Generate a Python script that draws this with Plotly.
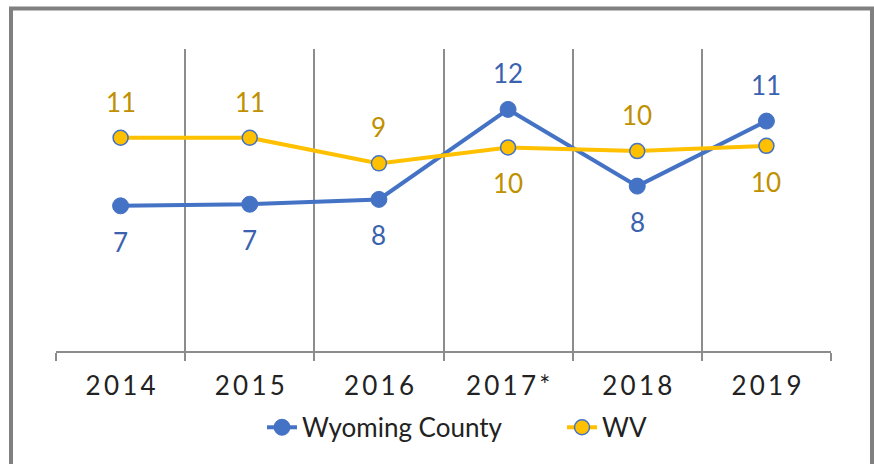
import plotly.graph_objects as go

years = ["2014", "2015", "2016", "2017*", "2018", "2019"]
tick_labels = ["2\u20090\u20091\u20094", "2\u20090\u20091\u20095", "2\u20090\u20091\u20096",
               "2\u20090\u20091\u20097\u2009*", "2\u20090\u20091\u20098", "2\u20090\u20091\u20099"]
wyoming = [7.21, 7.29, 7.53, 12.0, 8.19, 11.42]
wv = [10.59, 10.59, 9.32, 10.11, 9.93, 10.19]
wy_label_pos = ["below", "below", "below", "above", "below", "above"]
wv_label_pos = ["above", "above", "above", "below", "above", "below"]

FONT = "Lato"
BLUE = "#4472C4"
GOLD = "#FFC000"
BLUE_TXT = "#3A62AE"
GOLD_TXT = "#BF9000"
GRID = "#8C8C8C"

fig = go.Figure()
fig.add_trace(go.Scatter(
    x=years, y=wyoming, name="Wyoming County", mode="lines+markers",
    line=dict(color=BLUE, width=4),
    marker=dict(color=BLUE, size=16, line=dict(color=BLUE, width=1)),
))
fig.add_trace(go.Scatter(
    x=years, y=wv, name="WV", mode="lines+markers",
    line=dict(color=GOLD, width=4),
    marker=dict(color=GOLD, size=15, line=dict(color=BLUE, width=1.5)),
))

annotations = []
for ys, pos, col in [(wyoming, wy_label_pos, BLUE_TXT), (wv, wv_label_pos, GOLD_TXT)]:
    for i, (y, p) in enumerate(zip(ys, pos)):
        annotations.append(dict(
            x=i, y=y, xref="x", yref="y", text=f"{round(y):d}", showarrow=False,
            yanchor="middle", yshift=36 if p == "above" else -36,
            font=dict(family=FONT, size=26, color=col),
        ))

# outer frame (pixel -> paper conversion)
L, R, T, B = 56, 831, 49, 350.7
W, H = R - L, B - T
def px(x):
    return (x - L) / W
def py(y):
    return (B - y) / H

fig.update_layout(
    width=874, height=464,
    margin=dict(l=L, r=874 - R, t=T, b=464 - B, autoexpand=False),
    paper_bgcolor="white", plot_bgcolor="white",
    font=dict(family=FONT, size=26, color="#222222"),
    showlegend=True,
    legend=dict(orientation="h", x=px(262), xanchor="left", y=py(427), yanchor="middle",
                font=dict(family=FONT, size=26, color="#222222"), entrywidth=255,
                bgcolor="rgba(0,0,0,0)"),
    xaxis=dict(
        type="category", tickson="boundaries", tickmode="array",
        tickvals=years, ticktext=tick_labels,
        showgrid=True, gridcolor=GRID, gridwidth=1.5,
        showline=True, linecolor=GRID, linewidth=1.5,
        ticks="outside", ticklen=8, tickcolor=GRID, tickwidth=1.5,
        tickfont=dict(family=FONT, size=26, color="#222222"),
        ticklabelstandoff=11,
        range=[-0.5, 5.5], fixedrange=True,
    ),
    yaxis=dict(range=[0, 15], visible=False, showgrid=False, zeroline=False, fixedrange=True),
    annotations=annotations,
    shapes=[dict(type="rect", xref="paper", yref="paper",
                 x0=px(11), x1=px(872), y0=py(480), y1=py(8.5),
                 line=dict(color="#808080", width=4), fillcolor="rgba(0,0,0,0)",
                 layer="below")],
)

fig.write_html("out.html", config={"displayModeBar": False},
               post_script="document.body.style.margin='0';document.body.style.overflow='hidden';")
